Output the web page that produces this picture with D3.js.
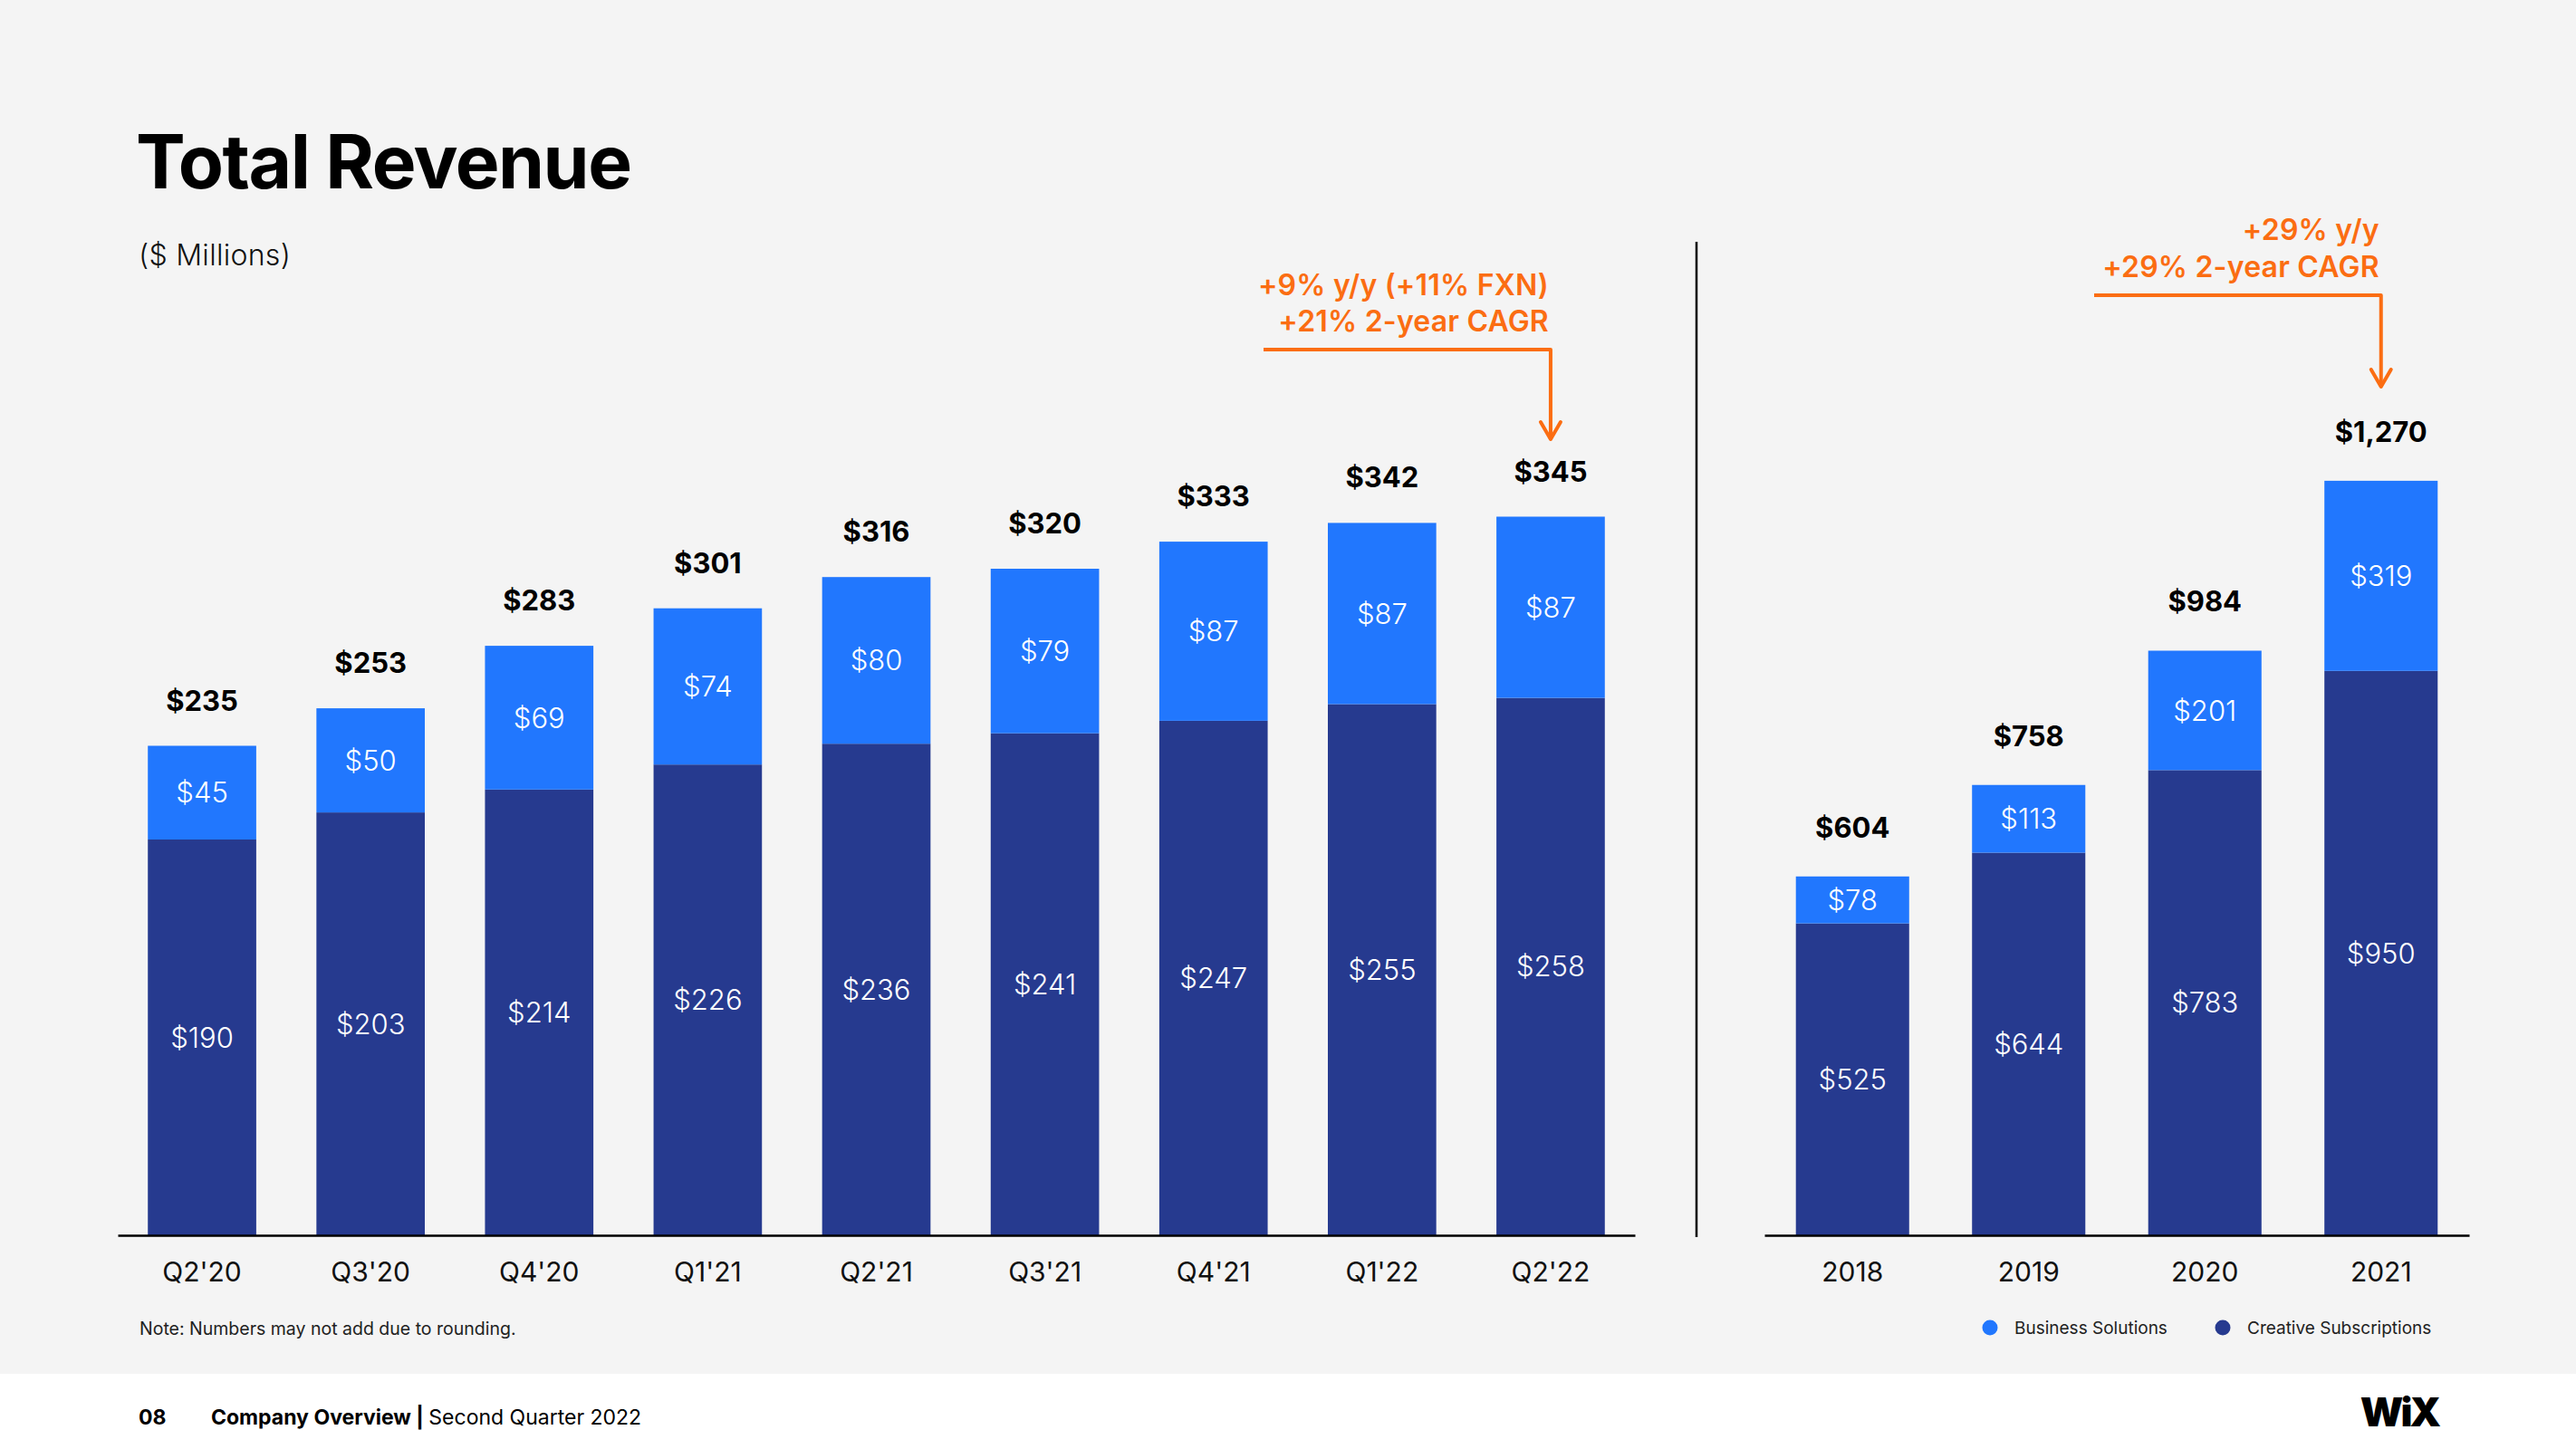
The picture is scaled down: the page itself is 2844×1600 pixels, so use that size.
<!DOCTYPE html>
<html>
<head>
<meta charset="utf-8">
<script src="https://cdn.jsdelivr.net/npm/d3@7"></script>
<style>
  html, body { margin: 0; padding: 0; background: #ffffff; }
  svg { display: block; font-family: Inter, "Noto Sans", sans-serif; }
</style>
</head>
<body>
<svg id="chart" width="2844" height="1600"></svg>
<script>
const quarters = ["Q2'20","Q3'20","Q4'20","Q1'21","Q2'21","Q3'21","Q4'21","Q1'22","Q2'22"];
const creativeQ = [190,203,214,226,236,241,247,255,258];
const businessQ = [45,50,69,74,80,79,87,87,87];
const totalQ = [235,253,283,301,316,320,333,342,345];

const years = ["2018","2019","2020","2021"];
const creativeY = [525,644,783,950];
const businessY = [78,113,201,319];
const totalY = [604,758,984,1270];

const seriesNames = ["Business Solutions","Creative Subscriptions"];
const colors = {business:"#2177fe", creative:"#263a8f"};
const orange = "#fb6d12";

const svg = d3.select("#chart");
svg.append("rect").attr("x",0).attr("y",0).attr("width",2844).attr("height",1517).attr("fill","#f4f4f4");

// Title
svg.append("text").attr("x",150).attr("y",208).attr("font-size",82).attr("font-weight",700)
  .attr("letter-spacing",-1.5).attr("fill","#000").text("Total Revenue");
svg.append("text").attr("x",153).attr("y",293).attr("font-size",32).attr("font-weight",300)
  .attr("fill","#111").attr("letter-spacing",0.3).text("($ Millions)");

const baseY = 1364;

function drawPanel(cats, creative, business, total, x0, x1, maxV, topPx, labelOff) {
  const x = d3.scaleBand().domain(cats).range([x0,x1]).paddingInner(0.357).paddingOuter(0.1785);
  const y = d3.scaleLinear().domain([0,maxV]).range([baseY, topPx]);
  const data = cats.map((c,i)=>({c, cr:creative[i], bs:business[i], t:total[i]}));
  const g = svg.append("g");
  // creative (bottom)
  g.selectAll(".cr").data(data).enter().append("rect")
    .attr("x",d=>x(d.c)).attr("width",x.bandwidth())
    .attr("y",d=>y(d.cr)).attr("height",d=>baseY-y(d.cr)).attr("fill",colors.creative);
  // business (top)
  g.selectAll(".bs").data(data).enter().append("rect")
    .attr("x",d=>x(d.c)).attr("width",x.bandwidth())
    .attr("y",d=>y(d.t)).attr("height",d=>y(d.cr)-y(d.t)).attr("fill",colors.business);
  // inner labels
  g.selectAll(".lcr").data(data).enter().append("text")
    .attr("x",d=>x(d.c)+x.bandwidth()/2).attr("y",d=>(y(d.cr)+baseY)/2)
    .attr("dy","0.36em").attr("text-anchor","middle").attr("font-size",31).attr("font-weight",300)
    .attr("fill","#fff").text(d=>"$"+d.cr);
  g.selectAll(".lbs").data(data).enter().append("text")
    .attr("x",d=>x(d.c)+x.bandwidth()/2).attr("y",d=>(y(d.cr)+y(d.t))/2)
    .attr("dy","0.36em").attr("text-anchor","middle").attr("font-size",31).attr("font-weight",300)
    .attr("fill","#fff").text(d=>"$"+d.bs);
  // totals
  g.selectAll(".lt").data(data).enter().append("text")
    .attr("x",d=>x(d.c)+x.bandwidth()/2).attr("y",d=>y(d.t)-labelOff)
    .attr("text-anchor","middle").attr("font-size",31).attr("font-weight",700)
    .attr("fill","#000").text(d=>"$"+d3.format(",")(d.t));
  // axis
  const ax = svg.append("g").attr("transform",`translate(0,${baseY})`)
    .call(d3.axisBottom(x).tickSize(0).tickSizeOuter(0).tickPadding(30));
  ax.select(".domain").attr("stroke","#000").attr("stroke-width",2.5);
  ax.selectAll("text").attr("font-size",30).attr("font-weight",400).attr("fill","#111")
    .attr("font-family","Inter, 'Noto Sans', sans-serif");
  return {x,y};
}

const L = drawPanel(quarters, creativeQ, businessQ, totalQ, 130, 1805, 400, baseY-920, 39);
const R = drawPanel(years, creativeY, businessY, totalY, 1948, 2726, 1500, baseY-984, 43);

// divider
svg.append("line").attr("x1",1873).attr("x2",1873).attr("y1",267).attr("y2",1366)
  .attr("stroke","#000").attr("stroke-width",2.5);

// annotations
function annotate(lines, xRight, baselines, lineY, lineX0, tipY) {
  const g = svg.append("g");
  lines.forEach((t,i)=>{
    g.append("text").attr("x",xRight - 2).attr("y",baselines[i]).attr("text-anchor","end")
      .attr("font-size",32).attr("font-weight",600).attr("letter-spacing",0.2).attr("fill",orange).text(t);
  });
  g.append("path").attr("d",`M${lineX0},${lineY}H${xRight}V${tipY}`)
    .attr("fill","none").attr("stroke",orange).attr("stroke-width",4).attr("stroke-linejoin","round");
  g.append("path").attr("d",`M${xRight-11},${tipY-19}L${xRight},${tipY}L${xRight+11},${tipY-19}`)
    .attr("fill","none").attr("stroke",orange).attr("stroke-width",4).attr("stroke-linecap","round").attr("stroke-linejoin","round");
}
const lq = quarters.length-1;
annotate(["+9% y/y (+11% FXN)","+21% 2-year CAGR"], L.x(quarters[lq])+L.x.bandwidth()/2, [326,366], 386, 1395, 485);
annotate(["+29% y/y","+29% 2-year CAGR"], R.x(years[3])+R.x.bandwidth()/2, [265,306], 326, 2312, 427);

// note
svg.append("text").attr("x",154).attr("y",1474).attr("font-size",19.5).attr("font-weight",400)
  .attr("fill","#222").text("Note: Numbers may not add due to rounding.");

// legend
const leg = svg.append("g");
const legItems = [{n:seriesNames[0],c:colors.business,x:2197},{n:seriesNames[1],c:colors.creative,x:2454}];
legItems.forEach(d=>{
  leg.append("circle").attr("cx",d.x).attr("cy",1466).attr("r",8.5).attr("fill",d.c);
  leg.append("text").attr("x",d.x+27).attr("y",1473).attr("font-size",19).attr("fill","#222").text(d.n);
});

// footer
svg.append("text").attr("x",153).attr("y",1573).attr("font-size",23).attr("font-weight",700).attr("fill","#000").text("08");
const ft = svg.append("text").attr("x",233).attr("y",1573).attr("font-size",23).attr("fill","#000");
ft.append("tspan").attr("font-weight",700).text("Company Overview | ");
ft.append("tspan").attr("font-weight",400).text("Second Quarter 2022");
svg.append("text").attr("x",2692).attr("y",1575).attr("text-anchor","end").attr("font-size",44)
  .attr("font-weight",900).attr("letter-spacing",-3).attr("fill","#000").text("WiX");
</script>
</body>
</html>
